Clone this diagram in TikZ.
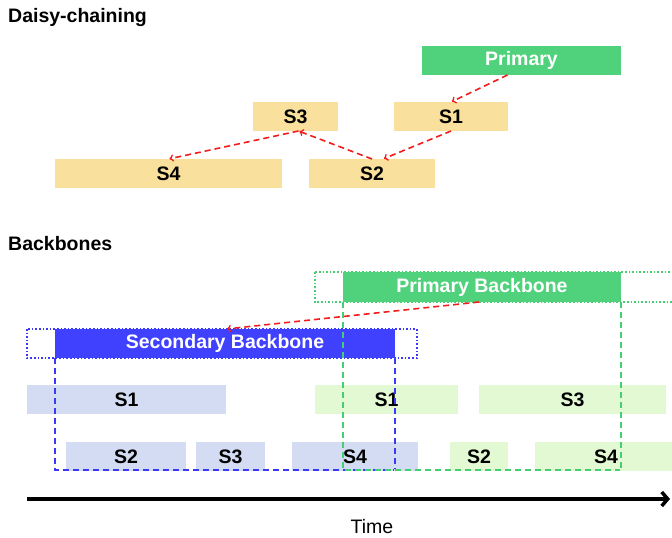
\documentclass[tikz,border=0pt]{standalone}
\usepackage{fontspec}
\setmainfont{Liberation Sans}
\usepackage{tikz}
\usetikzlibrary{positioning, arrows, arrows.meta, calc}

\definecolor{prigreen}{HTML}{4FD27B}
\definecolor{daisy}{HTML}{F9E09C}
\definecolor{secblue}{HTML}{4040FF}
\definecolor{lblue}{HTML}{D3DCF2}
\definecolor{lgreen}{HTML}{E3F9D3}
\definecolor{chainred}{HTML}{F21C1C}
\definecolor{gdash}{HTML}{45CF72}
\definecolor{bdash}{HTML}{3A3AF5}

\newcommand{\lbl}{\fontsize{19.5}{23}\selectfont\bfseries}

\tikzset{
  slot/.style={anchor=north west, inner sep=0pt, outer sep=0pt, minimum height=29pt, font=\lbl},
  chain/.style={->, >=to, chainred, line width=1.6pt, dash pattern=on 6pt off 4pt},
  span/.style={line width=1.6pt, dash pattern=on 6pt off 4pt},
}

\begin{document}
\begin{tikzpicture}[x=1pt,y=-1pt,shorten >=1pt]
    \useasboundingbox (0,0) rectangle (672,538);

    % daisy-chaining
    \node[anchor=west, inner sep=0pt, font=\lbl] (t_dc) at (8,18) {Daisy-chaining};
    \node[slot, fill=prigreen, text=white, minimum width=199pt] (dc_p) at (422,46) {Primary};
    \node[slot, fill=daisy, minimum width=85pt]  (dc_3) at (253,102) {S3};
    \node[slot, fill=daisy, minimum width=114pt] (dc_1) at (394,102) {S1};
    \node[slot, fill=daisy, minimum width=227pt] (dc_4) at (55,159)  {S4};
    \node[slot, fill=daisy, minimum width=126pt] (dc_2) at (309,159) {S2};

    \path[chain]
    ([xshift=-14pt]dc_p.south) edge (dc_1.north)
    (dc_1.south) edge ([xshift=11pt]dc_2.north)
    (dc_2.north) edge ([xshift=3pt]dc_3.south)
    ([xshift=3pt]dc_3.south) edge (dc_4.north)
    ;

    % backbones
    \node[anchor=west, inner sep=0pt, font=\lbl] (t_bb) at (8,244) {Backbones};
    \draw[gdash, dotted, line width=1.6pt] (315,272) rectangle (700,302);
    \draw[bdash, dotted, line width=1.6pt] (27,329) rectangle (417,358);
    \node[slot, fill=prigreen, text=white, minimum width=278pt, minimum height=30pt] (bb_p) at (343,272) {Primary Backbone};
    \node[slot, fill=secblue, text=white, minimum width=340pt] (bb_s) at (55,329) {Secondary Backbone};

    \node[slot, fill=lblue, minimum width=199pt]  (bs_1) at (27,385)  {S1};
    \node[slot, fill=lgreen, minimum width=143pt] (ps_1) at (315,385) {S1};
    \node[slot, fill=lgreen, minimum width=187pt] (ps_3) at (479,385) {S3};
    \node[slot, fill=lblue, minimum width=120pt]  (bs_2) at (66,442)  {S2};
    \node[slot, fill=lblue, minimum width=69pt]   (bs_3) at (196,442) {S3};
    \node[slot, fill=lblue, minimum width=126pt]  (bs_4) at (292,442) {S4};
    \node[slot, fill=lgreen, minimum width=58pt]  (ps_2) at (450,442) {S2};
    \node[slot, fill=lgreen, minimum width=142pt] (ps_4) at (535,442) {S4};

    \draw[span, bdash] (bb_s.south west) -- ++(0,112) -- ++(340,0);
    \draw[span, bdash] (bb_s.south east) -- ++(0,112);
    \draw[span, gdash] (bb_p.south west) -- ++(0,168) -- ++(278,0);
    \draw[span, gdash] (bb_p.south east) -- ++(0,168);

    \path[chain] ([xshift=-3pt]bb_p.south) edge ([xshift=1pt]bb_s.north);

    % time axis
    \coordinate (t_0) at (27,499);
    \coordinate (t_1) at (671,499);
    \draw[line width=3.5pt, -{Straight Barb[length=6pt,width=14pt]}] (t_0) -- (t_1);
    \node[font=\fontsize{19.5}{23}\selectfont] (time) at (372,527) {Time};
\end{tikzpicture}
\end{document}
